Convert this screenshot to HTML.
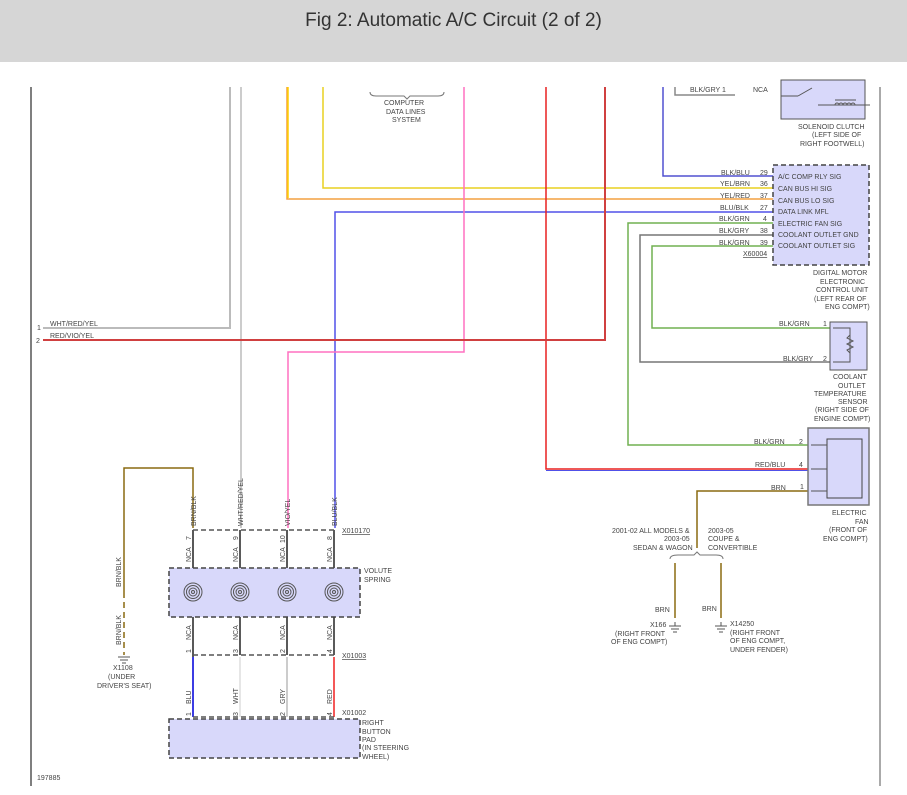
<!DOCTYPE html>
<html><head><meta charset="utf-8"><style>
body{margin:0;background:#fff;width:907px;height:795px;overflow:hidden;font-family:"Liberation Sans",sans-serif}
#hd{position:absolute;left:0;top:0;width:907px;height:62px;background:#d6d6d6}
#hd div{position:absolute;top:10px;left:0;width:907px;text-align:center;font-size:19px;color:#333}
svg{position:absolute;left:0;top:0}
text{font-family:"Liberation Sans",sans-serif;font-size:7px;fill:#444}
</style></head><body>
<div id="hd"><div>Fig 2: Automatic A/C Circuit (2 of 2)</div></div>
<svg width="907" height="795" viewBox="0 0 907 795">
<g fill="none" stroke-width="1.5">
<line x1="31" y1="87" x2="31" y2="786" stroke="#555"/>
<line x1="880" y1="87" x2="880" y2="786" stroke="#aaa" stroke-width="2"/>
<polyline points="230,87 230,328 43,328" stroke="#bbb" stroke-width="2"/>
<line x1="241" y1="87" x2="241" y2="528" stroke="#ccc" stroke-width="2"/>
<polyline points="287,87 287,199 775,199" stroke="#f4a040"/>
<polyline points="288,87 288,198" stroke="#ffd000"/>
<polyline points="323,87 323,188 775,188" stroke="#e8d020"/>
<polyline points="335,528 335,212 775,212" stroke="#5050e8"/>
<polyline points="464,87 464,352 288,352 288,528" stroke="#ff70c0"/>
<polyline points="546,87 546,469 808,469" stroke="#e82020"/>
<line x1="546" y1="470.5" x2="808" y2="470.5" stroke="#5050e8" stroke-width="1"/>
<polyline points="605,87 605,340 43,340" stroke="#d04040" stroke-width="2"/>
<polyline points="663,87 663,176 775,176" stroke="#5050d0"/>
<polyline points="675,87 675,95 735,95" stroke="#888"/>
<polyline points="775,223 628,223 628,445 808,445" stroke="#70b050"/>
<polyline points="775,235 640,235 640,362 830,362" stroke="#777"/>
<polyline points="775,246 652,246 652,328 830,328" stroke="#70b050"/>
<polyline points="808,491 697,491 697,548" stroke="#8a6a10"/>
<line x1="675" y1="563" x2="675" y2="618" stroke="#8a6a10"/>
<line x1="721" y1="563" x2="721" y2="618" stroke="#8a6a10"/>
<path d="M670,559 q0,-4 8,-4 h16 l3,-3 l3,3 h16 q7,0 7,4" stroke="#777" stroke-width="1"/>
<path d="M370,92 q0,4 6,4 h28 l3,3 l3,-3 h28 q6,0 6,-4" stroke="#777" stroke-width="1"/>
<polyline points="193,528 193,468 124,468 124,598" stroke="#8a6a10"/>
<line x1="124" y1="602" x2="124" y2="655" stroke="#8a6a10" stroke-dasharray="6,4"/>
<line x1="193" y1="530" x2="193" y2="717" stroke="#222"/>
<line x1="240" y1="530" x2="240" y2="655" stroke="#222"/>
<line x1="287" y1="530" x2="287" y2="655" stroke="#222"/>
<line x1="334" y1="530" x2="334" y2="655" stroke="#222"/>
<line x1="193" y1="657" x2="193" y2="717" stroke="#2020ff"/>
<line x1="240" y1="657" x2="240" y2="717" stroke="#ddd"/>
<line x1="287" y1="657" x2="287" y2="717" stroke="#bbb"/>
<line x1="334" y1="657" x2="334" y2="717" stroke="#f02020"/>
</g>
<g stroke="#555" stroke-dasharray="5,3" stroke-width="1.5">
<line x1="193" y1="530" x2="334" y2="530"/>
<line x1="193" y1="655" x2="334" y2="655"/>
<line x1="193" y1="717" x2="334" y2="717"/>
</g>
<rect x="773" y="165" width="96" height="100" fill="#d8d8fa" stroke="#444" stroke-dasharray="5,3" stroke-width="1.5"/>
<rect x="169" y="568" width="191" height="49" fill="#d8d8fa" stroke="#444" stroke-dasharray="5,3" stroke-width="1.5"/>
<rect x="169" y="719" width="191" height="39" fill="#d8d8fa" stroke="#444" stroke-dasharray="5,3" stroke-width="1.5"/>
<rect x="781" y="80" width="84" height="39" fill="#d8d8fa" stroke="#555"/>
<rect x="830" y="322" width="37" height="48" fill="#d8d8fa" stroke="#555"/>
<rect x="808" y="428" width="61" height="77" fill="#d8d8fa" stroke="#777" stroke-width="1.5"/>
<rect x="827" y="439" width="35" height="59" fill="#d8d8fa" stroke="#444"/>
<g stroke="#555" fill="none">
<line x1="811" y1="445" x2="827" y2="445"/><line x1="811" y1="469" x2="827" y2="469"/><line x1="811" y1="491" x2="827" y2="491"/>
<polyline points="833,328 850,328 850,362 833,362"/>
<path d="M850,335 l-3,3 l6,3 l-6,3 l6,3 l-6,3 l3,3" />
<line x1="781" y1="96" x2="798" y2="96"/><line x1="798" y1="96" x2="812" y2="88"/>
<line x1="818" y1="105" x2="870" y2="105"/>
<path d="M835,105 a2,2 0 0 1 4,0 a2,2 0 0 1 4,0 a2,2 0 0 1 4,0 a2,2 0 0 1 4,0 a2,2 0 0 1 4,0"/>
<line x1="835" y1="100" x2="856" y2="100"/>
</g>
<g fill="none" stroke="#555" stroke-width="1">
<g id="sp"><circle cx="193" cy="592" r="9"/><circle cx="193" cy="592" r="6.5"/><circle cx="193" cy="592" r="4"/><circle cx="193" cy="592" r="1.5"/></g>
<use href="#sp" x="47"/><use href="#sp" x="94"/><use href="#sp" x="141"/>
<path d="M118,657 h12 M120,660 h8 M122,663 h4"/>
<path d="M669,626 h12 M671,629 h8 M673,632 h4 M675,622 v4"/>
<path d="M715,626 h12 M717,629 h8 M719,632 h4 M721,622 v4"/>
</g>
<g>
<text x="50" y="326">WHT/RED/YEL</text><text x="37" y="330">1</text>
<text x="50" y="338">RED/VIO/YEL</text><text x="36" y="343">2</text>
<text x="384" y="105">COMPUTER</text><text x="386" y="114">DATA LINES</text><text x="392" y="122">SYSTEM</text>
<text x="690" y="92">BLK/GRY  1</text><text x="753" y="92">NCA</text>
<text x="798" y="129">SOLENOID CLUTCH</text><text x="812" y="137">(LEFT SIDE OF</text><text x="800" y="146">RIGHT FOOTWELL)</text>
<text x="721" y="175">BLK/BLU</text><text x="760" y="175">29</text><text x="778" y="179">A/C COMP RLY SIG</text>
<text x="720" y="186">YEL/BRN</text><text x="760" y="186">36</text><text x="778" y="191">CAN BUS HI SIG</text>
<text x="720" y="198">YEL/RED</text><text x="760" y="198">37</text><text x="778" y="203">CAN BUS LO SIG</text>
<text x="720" y="210">BLU/BLK</text><text x="760" y="210">27</text><text x="778" y="214">DATA LINK MFL</text>
<text x="719" y="221">BLK/GRN</text><text x="763" y="221">4</text><text x="778" y="226">ELECTRIC FAN SIG</text>
<text x="719" y="233">BLK/GRY</text><text x="760" y="233">38</text><text x="778" y="237">COOLANT OUTLET GND</text>
<text x="719" y="245">BLK/GRN</text><text x="760" y="245">39</text><text x="778" y="248">COOLANT OUTLET SIG</text>
<text x="743" y="256" text-decoration="underline">X60004</text>
<text x="813" y="275">DIGITAL MOTOR</text><text x="820" y="284">ELECTRONIC</text><text x="816" y="292">CONTROL UNIT</text><text x="814" y="301">(LEFT REAR OF</text><text x="825" y="309">ENG COMPT)</text>
<text x="779" y="326">BLK/GRN</text><text x="823" y="326">1</text>
<text x="783" y="361">BLK/GRY</text><text x="823" y="361">2</text>
<text x="833" y="379">COOLANT</text><text x="838" y="388">OUTLET</text><text x="814" y="396">TEMPERATURE</text><text x="838" y="404">SENSOR</text><text x="815" y="412">(RIGHT SIDE OF</text><text x="814" y="421">ENGINE COMPT)</text>
<text x="754" y="444">BLK/GRN</text><text x="799" y="444">2</text>
<text x="755" y="467">RED/BLU</text><text x="799" y="467">4</text>
<text x="771" y="490">BRN</text><text x="800" y="489">1</text>
<text x="832" y="515">ELECTRIC</text><text x="855" y="524">FAN</text><text x="829" y="532">(FRONT OF</text><text x="823" y="541">ENG COMPT)</text>
<text x="612" y="533">2001-02 ALL MODELS &amp;</text><text x="664" y="541">2003-05</text><text x="633" y="550">SEDAN &amp; WAGON</text>
<text x="708" y="533">2003-05</text><text x="708" y="541">COUPE &amp;</text><text x="708" y="550">CONVERTIBLE</text>
<text x="655" y="612">BRN</text><text x="702" y="611">BRN</text>
<text x="650" y="627">X166</text><text x="615" y="636">(RIGHT FRONT</text><text x="611" y="644">OF ENG COMPT)</text>
<text x="730" y="626">X14250</text><text x="730" y="635">(RIGHT FRONT</text><text x="730" y="643">OF ENG COMPT,</text><text x="730" y="652">UNDER FENDER)</text>
<text x="342" y="533" text-decoration="underline">X010170</text>
<text x="342" y="658" text-decoration="underline">X01003</text>
<text x="342" y="715">X01002</text>
<text x="364" y="573">VOLUTE</text><text x="364" y="582">SPRING</text>
<text x="362" y="725">RIGHT</text><text x="362" y="734">BUTTON</text><text x="362" y="742">PAD</text><text x="362" y="750">(IN STEERING</text><text x="362" y="759">WHEEL)</text>
<text x="113" y="670">X1108</text><text x="108" y="679">(UNDER</text><text x="97" y="688">DRIVER'S SEAT)</text>
<text x="37" y="780">197885</text>
</g>
<g transform="rotate(-90)">
<text x="-526" y="196">BRN/BLK</text><text x="-526" y="243">WHT/RED/YEL</text><text x="-526" y="290">VIO/YEL</text><text x="-526" y="337">BLU/BLK</text>
<text x="-540" y="191">7</text><text x="-540" y="238">9</text><text x="-543" y="285">10</text><text x="-540" y="332">8</text>
<text x="-562" y="191">NCA</text><text x="-562" y="238">NCA</text><text x="-562" y="285">NCA</text><text x="-562" y="332">NCA</text>
<text x="-640" y="191">NCA</text><text x="-640" y="238">NCA</text><text x="-640" y="285">NCA</text><text x="-640" y="332">NCA</text>
<text x="-653" y="191">1</text><text x="-653" y="238">3</text><text x="-653" y="285">2</text><text x="-653" y="332">4</text>
<text x="-704" y="191">BLU</text><text x="-704" y="238">WHT</text><text x="-704" y="285">GRY</text><text x="-704" y="332">RED</text>
<text x="-716" y="191">1</text><text x="-716" y="238">3</text><text x="-716" y="285">2</text><text x="-716" y="332">4</text>
<text x="-587" y="121">BRN/BLK</text><text x="-645" y="121">BRN/BLK</text>
</g>
</svg>
</body></html>
